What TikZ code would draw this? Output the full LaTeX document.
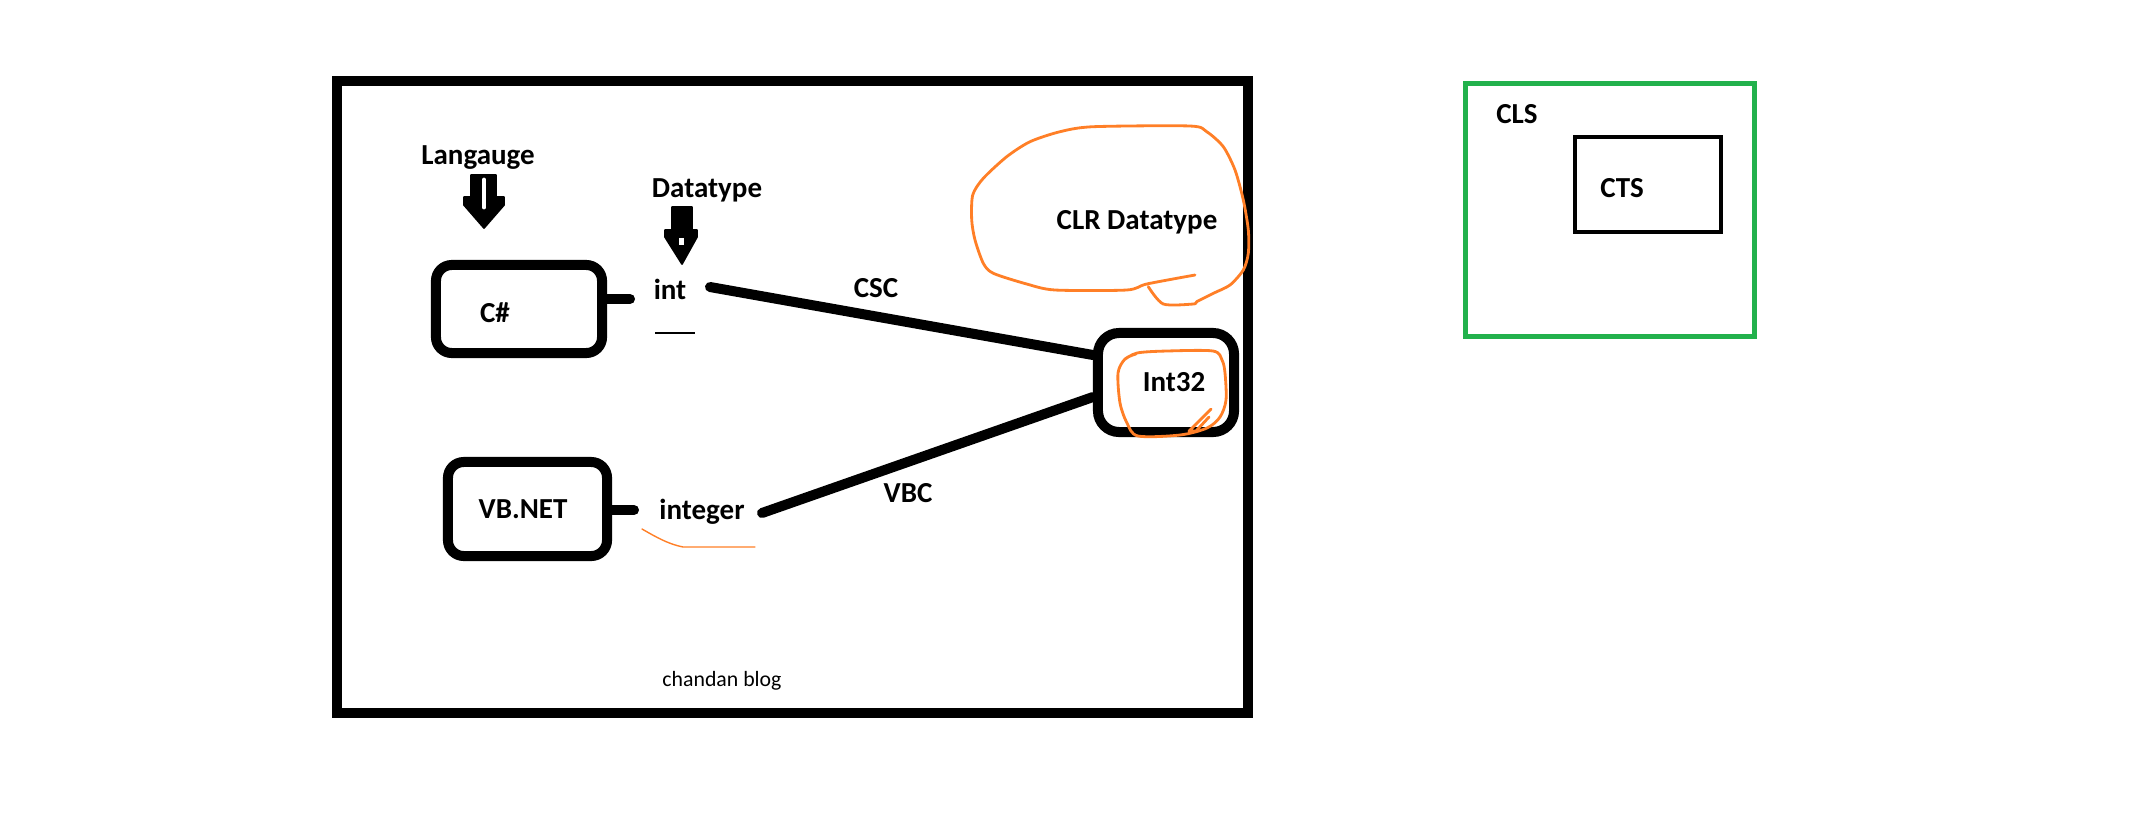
\documentclass[tikz,border=0pt]{standalone}
\usepackage{fontspec}
\setmainfont{Carlito}
\definecolor{paintorange}{HTML}{FF7F27}
\definecolor{paintgreen}{HTML}{22B14C}
\tikzset{
  frame/.style={draw=black, line width=2.85pt, inner sep=0pt},
  langbox/.style={draw=black, line width=2.85pt, rounded corners=4.5pt, inner sep=0pt},
  lbl/.style={font=\fontsize{8.25pt}{10pt}\selectfont\bfseries, inner sep=0pt, anchor=base},
  smalllbl/.style={font=\fontsize{6.2pt}{8pt}\selectfont, inner sep=0pt, anchor=base},
  conn/.style={line width=2.85pt, line cap=round},
  orangeline/.style={draw=paintorange, line width=0.8pt, line cap=round, line join=round},
  thinorange/.style={draw=paintorange, line width=0.4pt, line cap=round},
  blockarrow/.style={fill=black, draw=black, line width=0.5pt, line join=round},
}
\begin{document}
\begin{tikzpicture}[x=0.01cm, y=-0.01cm]
\useasboundingbox (0,0) rectangle (2131,839);
% outer frame
\node[frame, minimum width=9.11cm, minimum height=6.32cm] (frame) at (792.5,397) {};
% CLS / CTS
\node[draw=paintgreen, line width=1.34pt, inner sep=0pt, minimum width=2.89cm, minimum height=2.53cm] (clsbox) at (1610,210) {};
\node[draw=black, line width=1.14pt, inner sep=0pt, minimum width=1.46cm, minimum height=0.95cm] (ctsbox) at (1648,184.5) {};
\node[lbl] (cls) at (1517,123) {CLS};
\node[lbl] (cts) at (1622,197) {CTS};
% language boxes
\node[langbox, minimum width=1.66cm, minimum height=0.88cm] (csbox) at (519,309) {};
\node[langbox, minimum width=1.59cm, minimum height=0.94cm] (vbbox) at (527.5,509) {};
\node[langbox, rounded corners=6pt, minimum width=1.36cm, minimum height=0.99cm] (intbox) at (1166,382.5) {};
% labels
\node[lbl] (lang) at (478,164) {Langauge};
\node[lbl] (dtype) at (707,197) {Datatype};
\node[lbl] (cs) at (495,322) {C\#};
\node[lbl] (vb) at (523,518) {VB.NET};
\node[lbl] (int) at (670,299) {int};
\node[lbl] (integer) at (702,519) {integer};
\node[lbl] (csc) at (876,297) {CSC};
\node[lbl] (vbc) at (908,502) {VBC};
\node[lbl] (int32) at (1174,391) {Int32};
\node[lbl] (clr) at (1137,229) {CLR Datatype};
\node[smalllbl] (blog) at (722,686) {chandan blog};
% connector end points
\coordinate (csstub) at (630,299);
\coordinate (vbstub) at (634,510);
\coordinate (cscA) at (710,287);
\coordinate (cscB) at (1098,355);
\coordinate (vbcA) at (762,513);
\coordinate (vbcB) at (1098,397);
% connectors
\draw[conn] (csbox.east |- csstub) -- (csstub);
\draw[conn] (vbbox.east |- vbstub) -- (vbstub);
\draw[conn] (cscA) -- (intbox.west |- cscB);
\draw[conn] (vbcA) -- (intbox.west |- vbcB);
% underline under int
\draw[line width=0.35pt] (655,333) -- (695,333);
% block arrows
\draw[blockarrow] (471,175) -- (496,175) -- (496,197) -- (504,197) -- (504,205) -- (484,228) -- (464,205) -- (464,197) -- (471,197) -- cycle;
\draw[white, line width=1.4pt, line cap=round] (484,180) -- (484,207);
\draw[blockarrow] (672,207) -- (692,207) -- (692,230) -- (697,230) -- (697,237) -- (682,264) -- (665,237) -- (665,230) -- (672,230) -- cycle;
\fill[white] (679,238) rectangle (684,245);
% orange cloud around CLR Datatype
\draw[orangeline] plot[smooth, tension=0.45] coordinates {
 (1195,275) (1146.7,284) (1126.7,290) (1055,290) (1026.7,284) (993.3,273.3)
 (983.3,263.3) (975,240) (971.7,220) (972.7,195) (983.3,178.3) (1006.7,156.7)
 (1030,141.7) (1060,131.7) (1093.3,126.7) (1190,126) (1206.7,131.7) (1223.3,146.7)
 (1235,170) (1243.3,200) (1248.3,230) (1248.3,253.3) (1243.3,270) (1230,285)
 (1213.3,293.3) (1196.7,301.7) (1193.3,304) (1163.3,304) (1148.3,286.7)};
% orange circle around Int32
\draw[orangeline] plot[smooth, tension=0.5] coordinates {
 (1124,360) (1137,353) (1167,351) (1213,351) (1222,360) (1225,373) (1226,400)
 (1220,417) (1207,428) (1180,435) (1138,436) (1127,423) (1120,403) (1118,373)
 (1125,359) (1136,354)};
\draw[orangeline] (1211,409) -- (1189,431) -- (1196,431) -- (1209,417);
% orange underline under integer
\draw[thinorange] (642,529) .. controls (656,537) and (668,544) .. (683,547) -- (755,547);
\end{tikzpicture}
\end{document}
